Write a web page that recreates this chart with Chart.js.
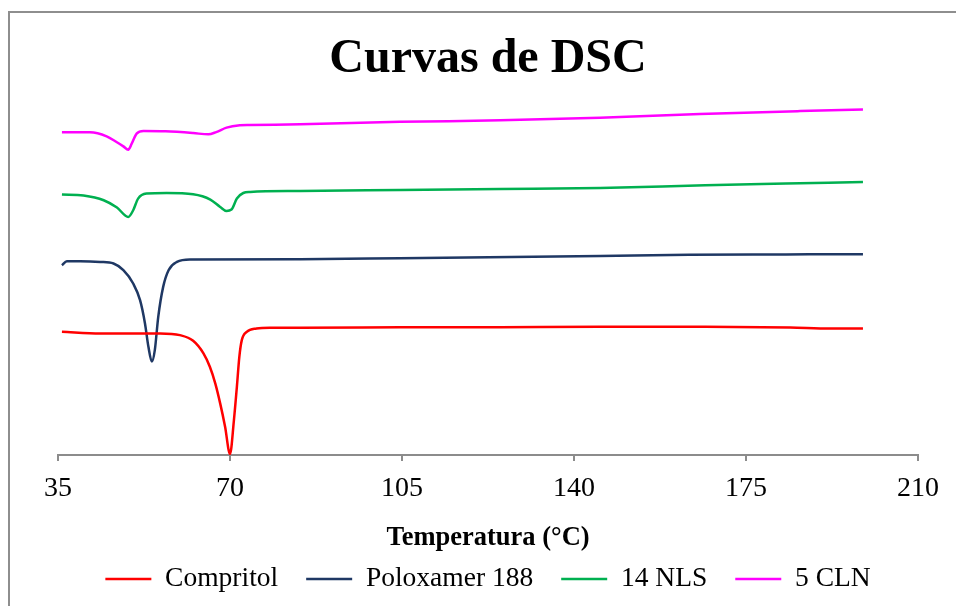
<!DOCTYPE html>
<html>
<head>
<meta charset="utf-8">
<title>Curvas de DSC</title>
<script src="https://cdn.jsdelivr.net/npm/chart.js@4.4.1/dist/chart.umd.min.js"></script>
<style>
    body { margin: 0; background: #fff; }
    #frame {
        position: absolute; left: 8px; top: 11px; width: 2000px; height: 2000px;
        border-left: 2px solid #8e8e8e; border-top: 2px solid #8e8e8e;
    }
    #wrap { position: absolute; left: 0; top: 0; width: 956px; height: 606px; }
</style>
</head>
<body>
<div id="frame"></div>
<div id="wrap"><canvas id="chart" width="956" height="606"></canvas></div>
<script>
// temperatures (°C) and heat flow (arbitrary units)
const compritolT = [35.8, 43.6, 55.8, 59.8, 62.5, 64.6, 65.9, 67.0, 68.0, 69.0, 70.0, 70.8, 71.4, 71.9, 72.4, 73.4, 75.4, 78.1, 84.3, 104.6, 125.0, 145.3, 166.7, 184.0, 192.1, 198.8];
const compritolY = [12.33, 12.17, 12.17, 12.0, 11.43, 10.17, 8.83, 7.17, 5.17, 2.83, 0.1, 3.5, 6.83, 9.83, 11.5, 12.33, 12.67, 12.75, 12.75, 12.78, 12.8, 12.85, 12.85, 12.77, 12.67, 12.67];

const poloxamerT = [35.8, 36.8, 39.5, 43.6, 46.3, 48.3, 50.3, 51.7, 52.7, 53.4, 54.1, 54.7, 55.4, 56.4, 57.5, 59.2, 61.9, 84.3, 104.6, 145.3, 163.4, 183.1, 198.8];
const poloxamerY = [19.0, 19.4, 19.4, 19.33, 19.17, 18.5, 17.17, 15.5, 13.17, 10.83, 9.35, 10.5, 13.83, 16.83, 18.5, 19.33, 19.57, 19.6, 19.7, 19.93, 20.05, 20.08, 20.1];

const nlsT = [35.8, 40.2, 44.3, 47.0, 49.3, 50.3, 51.3, 53.0, 57.1, 62.5, 66.0, 68.0, 69.3, 70.3, 71.4, 72.7, 74.1, 84.3, 104.6, 125.0, 145.3, 166.7, 183.1, 198.8];
const nlsY = [26.07, 25.97, 25.5, 24.77, 23.83, 24.5, 25.67, 26.17, 26.23, 26.1, 25.57, 24.83, 24.43, 24.57, 25.67, 26.23, 26.33, 26.43, 26.53, 26.63, 26.73, 27.0, 27.17, 27.33];

const clnT = [35.8, 41.5, 44.9, 46.9, 48.3, 49.3, 50.0, 51.0, 52.4, 56.9, 62.5, 65.6, 67.2, 69.3, 72.0, 74.0, 84.3, 104.6, 125.0, 145.3, 165.6, 186.0, 198.8];
const clnY = [32.3, 32.3, 31.9, 31.33, 30.9, 30.57, 31.17, 32.17, 32.43, 32.4, 32.23, 32.1, 32.33, 32.77, 33.0, 33.03, 33.1, 33.35, 33.5, 33.77, 34.13, 34.43, 34.6];

const xTicks = [35, 70, 105, 140, 175, 210];

const serif = 'Liberation Serif';

function pts(xs, ys) {
    return xs.map((x, i) => ({x: x, y: ys[i]}));
}

function series(label, xs, ys, color) {
    return {
        label: label,
        data: pts(xs, ys),
        borderColor: color,
        backgroundColor: color,
        borderWidth: 2.5,
        pointRadius: 0,
        cubicInterpolationMode: 'monotone',
        fill: false
    };
}

new Chart(document.getElementById('chart'), {
    type: 'line',
    data: {
        datasets: [
            series('Compritol', compritolT, compritolY, '#ff0000'),
            series('Poloxamer 188', poloxamerT, poloxamerY, '#1f3864'),
            series('14 NLS', nlsT, nlsY, '#00b050'),
            series('5 CLN', clnT, clnY, '#ff00ff')
        ]
    },
    options: {
        responsive: false,
        animation: false,
        devicePixelRatio: 1,
        layout: {padding: {left: 58, right: 38, top: 0, bottom: 3.25}},
        plugins: {
            title: {
                display: true,
                text: 'Curvas de DSC',
                color: '#000',
                font: {family: serif, size: 48, weight: 'bold'},
                padding: {top: 31.2, bottom: 1.6}
            },
            legend: {
                position: 'bottom',
                labels: {
                    usePointStyle: true,
                    pointStyle: 'line',
                    pointStyleWidth: 46,
                    padding: 28,
                    color: '#000',
                    font: {family: serif, size: 27.5}
                }
            },
            tooltip: {enabled: false}
        },
        scales: {
            x: {
                type: 'linear',
                min: 35,
                max: 210,
                afterBuildTicks: (axis) => { axis.ticks = xTicks.map(v => ({value: v})); },
                ticks: {
                    color: '#000',
                    padding: 10.7,
                    font: {family: serif, size: 28}
                },
                grid: {
                    drawOnChartArea: false,
                    drawTicks: true,
                    tickLength: 6,
                    color: '#8c8c8c',
                    lineWidth: 2
                },
                border: {display: true, color: '#8c8c8c', width: 2},
                title: {
                    display: true,
                    text: 'Temperatura (°C)',
                    color: '#000',
                    font: {family: serif, size: 26.5, weight: 'bold'},
                    padding: {top: 6.1, bottom: -16.65}
                }
            },
            y: {
                display: false,
                min: 0,
                max: 36.5
            }
        }
    }
});
</script>
</body>
</html>
